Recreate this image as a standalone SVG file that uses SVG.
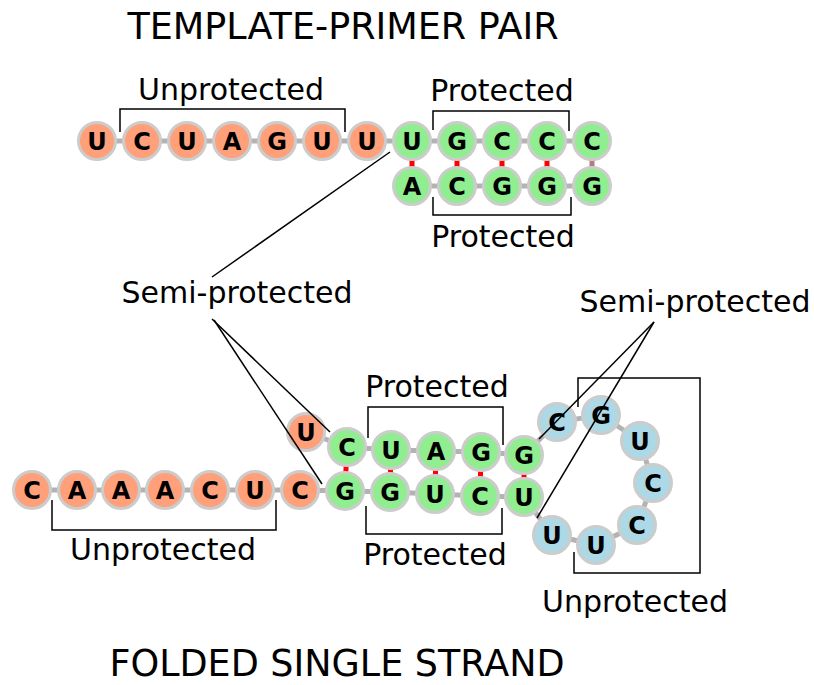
<svg xmlns="http://www.w3.org/2000/svg" width="814" height="685" viewBox="0 0 814 685">
<style>
.bb{stroke:#b3b3b3;stroke-width:5;fill:none}
.bp{stroke:#ff0000;stroke-width:5;fill:none}
.bpw{stroke:#b47c7c;stroke-width:5;fill:none}
.n circle{stroke:#cccccc;stroke-width:3}
.o circle{fill:#ffa07a}
.g circle{fill:#90ee90}
.b circle{fill:#add8e6}
.n text{font-family:"DejaVu Sans",sans-serif;font-weight:bold;font-size:24px;text-anchor:middle;fill:#000}
.lbl{font-family:"DejaVu Sans",sans-serif;font-size:30px;text-anchor:middle;fill:#000}
.ttl{font-family:"DejaVu Sans",sans-serif;font-size:36.5px;text-anchor:middle;fill:#000}
.br{stroke:#000;stroke-width:1.5;fill:none}
.ptr{stroke:#000;stroke-width:1.5;fill:none}
</style>
<rect width="814" height="685" fill="#fff"/>
<g id="connectors">
<g id="backbone">
<polyline class="bb" points="97,141 142,141 187,141 232,141 277,141 322,141 367,141 412,141 457,141 502,141 547,141 592,141"/>
<polyline class="bb" points="412,186 457,186 502,186 547,186 592,186"/>
<polyline class="bb" points="32,490 77,490 121,490 165,490 210,490 255,490 300,490 345,491 390,492 435,494 480,496 524,497 552,535 596,545 637,525 653,483 640,441 601,415 557,422 524,455 481,452 436,451 391,450 347,447 306,432"/>
</g>
<g id="pairs">
<line class="bp" x1="412" y1="141" x2="412" y2="186"/>
<line class="bp" x1="457" y1="141" x2="457" y2="186"/>
<line class="bp" x1="502" y1="141" x2="502" y2="186"/>
<line class="bp" x1="547" y1="141" x2="547" y2="186"/>
<line class="bpw" x1="592" y1="141" x2="592" y2="186"/>
<line class="bp" x1="347" y1="447" x2="345" y2="491"/>
<line class="bp" x1="391" y1="450" x2="390" y2="492"/>
<line class="bp" x1="436" y1="451" x2="435" y2="494"/>
<line class="bp" x1="481" y1="452" x2="480" y2="496"/>
<line class="bp" x1="524" y1="455" x2="524" y2="497"/>
</g>
</g>
<g id="top-strand">
<g id="t1" class="n o"><circle cx="97" cy="141" r="18.5"/><text x="97" y="150">U</text></g>
<g id="t2" class="n o"><circle cx="142" cy="141" r="18.5"/><text x="142" y="150">C</text></g>
<g id="t3" class="n o"><circle cx="187" cy="141" r="18.5"/><text x="187" y="150">U</text></g>
<g id="t4" class="n o"><circle cx="232" cy="141" r="18.5"/><text x="232" y="150">A</text></g>
<g id="t5" class="n o"><circle cx="277" cy="141" r="18.5"/><text x="277" y="150">G</text></g>
<g id="t6" class="n o"><circle cx="322" cy="141" r="18.5"/><text x="322" y="150">U</text></g>
<g id="t7" class="n o"><circle cx="367" cy="141" r="18.5"/><text x="367" y="150">U</text></g>
<g id="t8" class="n g"><circle cx="412" cy="141" r="18.5"/><text x="412" y="150">U</text></g>
<g id="t9" class="n g"><circle cx="457" cy="141" r="18.5"/><text x="457" y="150">G</text></g>
<g id="t10" class="n g"><circle cx="502" cy="141" r="18.5"/><text x="502" y="150">C</text></g>
<g id="t11" class="n g"><circle cx="547" cy="141" r="18.5"/><text x="547" y="150">C</text></g>
<g id="t12" class="n g"><circle cx="592" cy="141" r="18.5"/><text x="592" y="150">C</text></g>
<g id="p1" class="n g"><circle cx="412" cy="186" r="18.5"/><text x="412" y="195">A</text></g>
<g id="p2" class="n g"><circle cx="457" cy="186" r="18.5"/><text x="457" y="195">C</text></g>
<g id="p3" class="n g"><circle cx="502" cy="186" r="18.5"/><text x="502" y="195">G</text></g>
<g id="p4" class="n g"><circle cx="547" cy="186" r="18.5"/><text x="547" y="195">G</text></g>
<g id="p5" class="n g"><circle cx="592" cy="186" r="18.5"/><text x="592" y="195">G</text></g>
</g>
<g id="folded-strand">
<g id="f1" class="n o"><circle cx="32" cy="490" r="18.5"/><text x="32" y="499">C</text></g>
<g id="f2" class="n o"><circle cx="77" cy="490" r="18.5"/><text x="77" y="499">A</text></g>
<g id="f3" class="n o"><circle cx="121" cy="490" r="18.5"/><text x="121" y="499">A</text></g>
<g id="f4" class="n o"><circle cx="165" cy="490" r="18.5"/><text x="165" y="499">A</text></g>
<g id="f5" class="n o"><circle cx="210" cy="490" r="18.5"/><text x="210" y="499">C</text></g>
<g id="f6" class="n o"><circle cx="255" cy="490" r="18.5"/><text x="255" y="499">U</text></g>
<g id="f7" class="n o"><circle cx="300" cy="490" r="18.5"/><text x="300" y="499">C</text></g>
<g id="f8" class="n g"><circle cx="345" cy="491" r="18.5"/><text x="345" y="500">G</text></g>
<g id="f9" class="n g"><circle cx="390" cy="492" r="18.5"/><text x="390" y="501">G</text></g>
<g id="f10" class="n g"><circle cx="435" cy="494" r="18.5"/><text x="435" y="503">U</text></g>
<g id="f11" class="n g"><circle cx="480" cy="496" r="18.5"/><text x="480" y="505">C</text></g>
<g id="f12" class="n g"><circle cx="524" cy="497" r="18.5"/><text x="524" y="506">U</text></g>
<g id="f13" class="n b"><circle cx="552" cy="535" r="18.5"/><text x="552" y="544">U</text></g>
<g id="f14" class="n b"><circle cx="596" cy="545" r="18.5"/><text x="596" y="554">U</text></g>
<g id="f15" class="n b"><circle cx="637" cy="525" r="18.5"/><text x="637" y="534">C</text></g>
<g id="f16" class="n b"><circle cx="653" cy="483" r="18.5"/><text x="653" y="492">C</text></g>
<g id="f17" class="n b"><circle cx="640" cy="441" r="18.5"/><text x="640" y="450">U</text></g>
<g id="f18" class="n b"><circle cx="601" cy="415" r="18.5"/><text x="601" y="424">G</text></g>
<g id="f19" class="n b"><circle cx="557" cy="422" r="18.5"/><text x="557" y="431">C</text></g>
<g id="f20" class="n g"><circle cx="524" cy="455" r="18.5"/><text x="524" y="464">G</text></g>
<g id="f21" class="n g"><circle cx="481" cy="452" r="18.5"/><text x="481" y="461">G</text></g>
<g id="f22" class="n g"><circle cx="436" cy="451" r="18.5"/><text x="436" y="460">A</text></g>
<g id="f23" class="n g"><circle cx="391" cy="450" r="18.5"/><text x="391" y="459">U</text></g>
<g id="f24" class="n g"><circle cx="347" cy="447" r="18.5"/><text x="347" y="456">C</text></g>
<g id="f25" class="n o"><circle cx="306" cy="432" r="18.5"/><text x="306" y="441">U</text></g>
</g>
<g id="brackets">
<polyline class="br" points="120,132 120,109 345,109 345,132"/>
<polyline class="br" points="433,130 433,111 569,111 569,131"/>
<polyline class="br" points="433,197 433,215 571,215 571,197"/>
<polyline class="br" points="368,438 368,407 503,407 503,445"/>
<polyline class="br" points="366,506 366,534 502,534 502,508"/>
<polyline class="br" points="52,500 52,530 276,530 276,500"/>
<polyline class="br" points="578,407 578,378 700,378 700,573 574,573 574,552"/>
</g>
<g id="pointers">
<line class="ptr" x1="212" y1="277" x2="390" y2="152"/>
<line class="ptr" x1="212" y1="319" x2="330" y2="432"/>
<line class="ptr" x1="214" y1="320" x2="322" y2="484"/>
<line class="ptr" x1="654" y1="322" x2="539" y2="439"/>
<line class="ptr" x1="654" y1="322" x2="537" y2="518"/>
</g>
<g id="labels">
<text class="ttl" x="343" y="39">TEMPLATE-PRIMER PAIR</text>
<text class="ttl" x="337" y="676">FOLDED SINGLE STRAND</text>
<text class="lbl" x="231" y="100">Unprotected</text>
<text class="lbl" x="502" y="101">Protected</text>
<text class="lbl" x="503" y="247">Protected</text>
<text class="lbl" x="237" y="303">Semi-protected</text>
<text class="lbl" x="695" y="312">Semi-protected</text>
<text class="lbl" x="437" y="397">Protected</text>
<text class="lbl" x="435" y="565">Protected</text>
<text class="lbl" x="163" y="560">Unprotected</text>
<text class="lbl" x="635" y="612">Unprotected</text>
</g>
</svg>
